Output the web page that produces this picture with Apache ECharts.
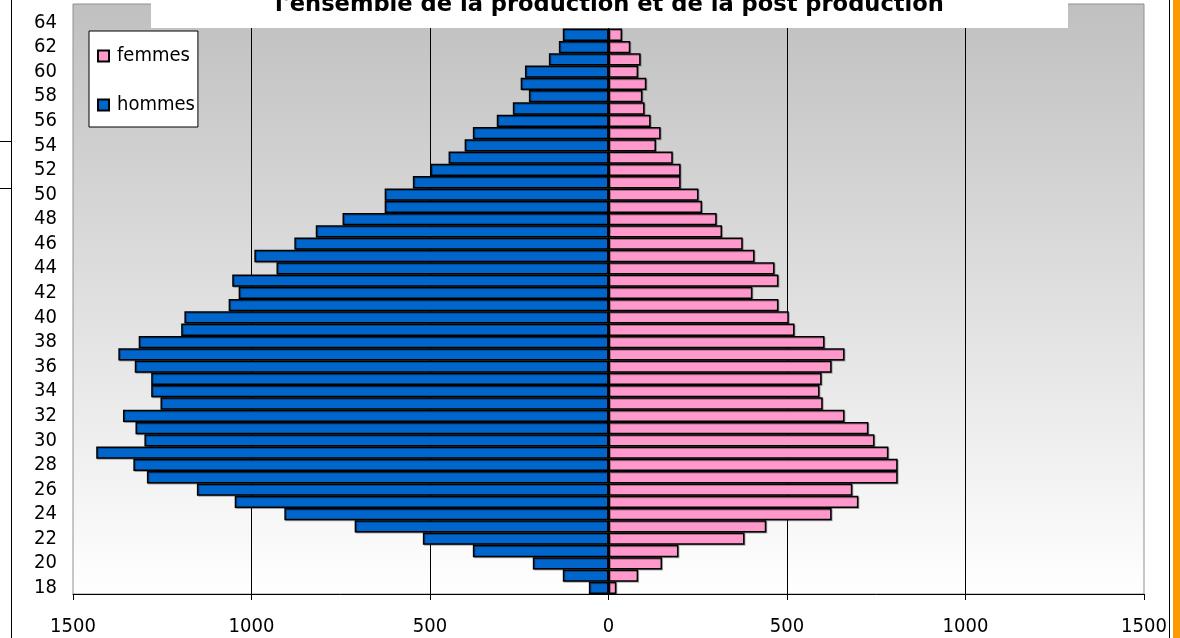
<!DOCTYPE html>
<html>
<head>
<meta charset="utf-8">
<script src="https://cdn.jsdelivr.net/npm/echarts@6/dist/echarts.min.js"></script>
<style>
  html, body { margin: 0; padding: 0; background: #fff; }
  #chart { width: 1180px; height: 638px; }
</style>
</head>
<body>
<div id="chart"></div>
<script>
// ages on the vertical axis (65 is only there to keep the top band, like the original)
const ages = [18, 19, 20, 21, 22, 23, 24, 25, 26, 27, 28, 29, 30, 31, 32, 33,
  34, 35, 36, 37, 38, 39, 40, 41, 42, 43, 44, 45, 46, 47, 48, 49,
  50, 51, 52, 53, 54, 55, 56, 57, 58, 59, 60, 61, 62, 63, 64, 65];

// headcounts per age (64 and 65 are hidden under the title)
const hommes = [55, 128, 212, 380, 520, 711, 908, 1047, 1153, 1293, 1331, 1435, 1300, 1325, 1360, 1255,
  1281, 1281, 1327, 1373, 1316, 1197, 1188, 1064, 1036, 1054, 930, 992, 880, 820, 745, 627,
  627, 548, 499, 448, 403, 380, 313, 268, 223, 246, 234, 167, 139, 128, null, null];
const femmes = [22, 83, 150, 196, 381, 442, 625, 700, 683, 810, 810, 784, 745, 728, 661, 600,
  591, 597, 625, 661, 605, 521, 505, 476, 403, 476, 465, 409, 376, 318, 303, 262,
  252, 202, 202, 180, 133, 146, 118, 101, 95, 106, 83, 90, 61, 38, null, null];

const xTicks = { min: -1500, max: 1500, step: 500 };
const titre = "l'ensemble de la production et de la post production";

const FONT = "'DejaVu Sans Condensed', 'DejaVu Sans', sans-serif";

const chart = echarts.init(document.getElementById('chart'));

const options = {
    backgroundColor: '#ffffff',
    animation: false,
    legend: {
        data: ['femmes', 'hommes'],
        orient: 'vertical',
        left: 89,
        top: 31,
        padding: [15, 3, 12, 8],
        itemWidth: 11,
        itemHeight: 11,
        itemGap: 29,
        icon: 'rect',
        backgroundColor: '#ffffff',
        borderColor: '#000000',
        borderWidth: 1,
        textStyle: {
            fontFamily: FONT,
            fontSize: 20,
            color: '#000000',
            padding: [0, 0, 0, 3]
        }
    },
    grid: {
        left: 73,
        right: 36,
        top: 4,
        bottom: 44,
        outerBoundsMode: 'none',
        show: true,
        backgroundColor: new echarts.graphic.LinearGradient(0, 0, 0, 1, [
            { offset: 0, color: '#c0c0c0' },
            { offset: 1, color: '#ffffff' }
        ]),
        borderColor: '#909090',
        borderWidth: 1
    },
    xAxis: {
        type: 'value',
        min: xTicks.min,
        max: xTicks.max,
        interval: xTicks.step,
        axisLine: { show: true, onZero: false, lineStyle: { color: '#000000', width: 1 } },
        axisTick: { show: true, length: 6, lineStyle: { color: '#000000' } },
        axisLabel: {
            formatter: function (v) { return Math.abs(v); },
            fontFamily: FONT,
            fontSize: 20,
            color: '#000000',
            margin: 23
        },
        splitLine: {
            show: true,
            showMinLine: false,
            showMaxLine: false,
            lineStyle: { color: '#000000', width: 1 }
        }
    },
    yAxis: {
        type: 'category',
        data: ages,
        axisLine: { show: false },
        axisTick: { show: false },
        axisLabel: {
            interval: 1,
            fontFamily: FONT,
            fontSize: 20,
            color: '#000000',
            margin: 16
        },
        splitLine: { show: false }
    },
    graphic: [
        // bits of the sheet around the chart
        { type: 'line', z: 50, shape: { x1: 11.5, y1: 0, x2: 11.5, y2: 638 }, style: { stroke: '#000', lineWidth: 1 } },
        { type: 'line', z: 50, shape: { x1: 0, y1: 141.5, x2: 11, y2: 141.5 }, style: { stroke: '#000', lineWidth: 1 } },
        { type: 'line', z: 50, shape: { x1: 0, y1: 188.5, x2: 11, y2: 188.5 }, style: { stroke: '#000', lineWidth: 1 } },
        { type: 'line', z: 50, shape: { x1: 1169.5, y1: 0, x2: 1169.5, y2: 638 }, style: { stroke: '#000', lineWidth: 1 } },
        { type: 'rect', z: 50, shape: { x: 1173, y: 0, width: 7, height: 638 }, style: { fill: '#ff9900' } },
        // white title box over the top of the plot
        { type: 'rect', z: 100, shape: { x: 151, y: 0, width: 917, height: 28 }, style: { fill: '#ffffff' } },
        {
            type: 'text', z: 101, x: 609.5, y: 5,
            style: {
                text: titre,
                fill: '#000000',
                font: "bold 22.6px 'DejaVu Sans', sans-serif",
                align: 'center',
                verticalAlign: 'middle'
            }
        }
    ],
    series: [
        {
            name: 'hommes',
            type: 'bar',
            stack: 'pyramide',
            barCategoryGap: '0%',
            itemStyle: {
                color: '#0066cc', borderColor: '#000000', borderWidth: 1.5,
                shadowColor: 'rgba(0,0,0,0.3)', shadowOffsetX: 1, shadowOffsetY: 1
            },
            data: hommes.map(function (v) { return v == null ? null : -v; })
        },
        {
            name: 'femmes',
            type: 'bar',
            stack: 'pyramide',
            barCategoryGap: '0%',
            itemStyle: {
                color: '#ff99cc', borderColor: '#000000', borderWidth: 1.5,
                shadowColor: 'rgba(0,0,0,0.3)', shadowOffsetX: 1, shadowOffsetY: 1
            },
            data: femmes
        }
    ]
};

chart.setOption(options);
</script>
</body>
</html>
